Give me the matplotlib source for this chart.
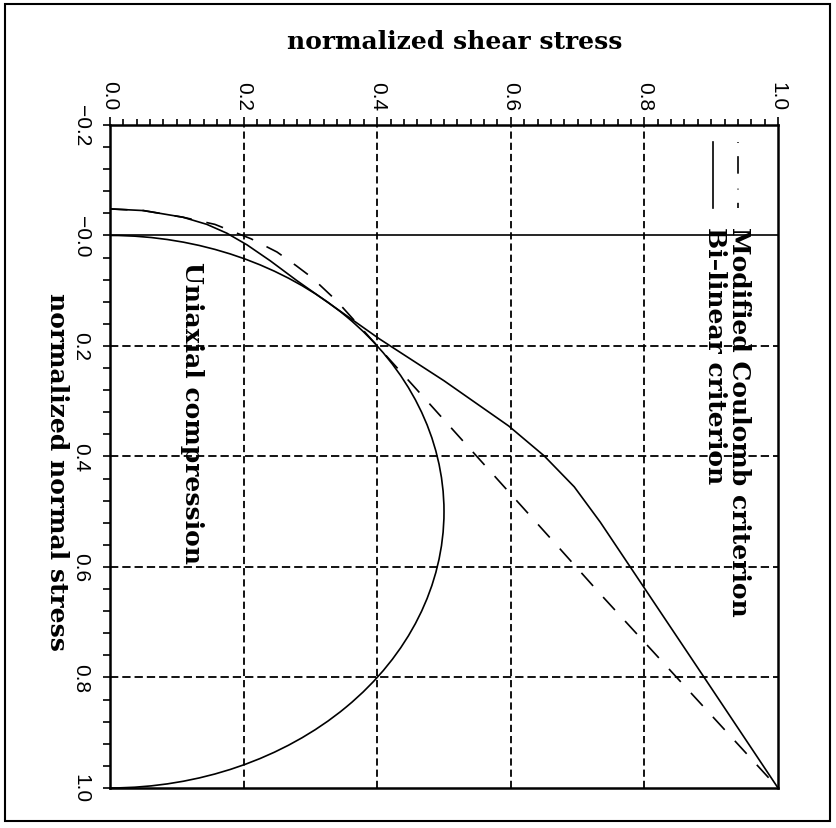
import matplotlib
matplotlib.use("Agg")
import matplotlib.pyplot as plt
from matplotlib.patches import Arc, Rectangle
from matplotlib.ticker import FixedLocator, FixedFormatter, MultipleLocator

# axis ticks
shear_ticks = [0.0, 0.2, 0.4, 0.6, 0.8, 1.0]
shear_labels = ["0.0", "0.2", "0.4", "0.6", "0.8", "1.0"]
normal_ticks = [-0.2, 0.0, 0.2, 0.4, 0.6, 0.8, 1.0]
normal_labels = ["\u22120.2", "\u22120.0", "0.2", "0.4", "0.6", "0.8", "1.0"]
grid_shear = [0.2, 0.4, 0.6, 0.8]
grid_normal = [0.2, 0.4, 0.6, 0.8]

# Mohr circle for uniaxial compression
circle_center = 0.5
circle_radius = 0.5

# modified Coulomb criterion
coulomb_normal = [-0.048, -0.045, -0.033, -0.020, 0.006, 0.030, 0.055, 0.076,
                  0.118, 0.272, 0.561, 0.649, 1.0]
coulomb_shear = [0.0, 0.05, 0.109, 0.157, 0.211, 0.250, 0.279, 0.302,
                 0.339, 0.454, 0.669, 0.734, 1.0]

# bi-linear criterion
bilinear_normal = [-0.048, -0.045, -0.033, -0.020, -0.004, 0.017, 0.046, 0.082,
                   0.116, 0.187, 0.263, 0.345, 0.399, 0.455, 0.519, 0.799, 1.0]
bilinear_shear = [0.0, 0.05, 0.109, 0.145, 0.175, 0.205, 0.240, 0.280,
                  0.320, 0.403, 0.500, 0.597, 0.650, 0.695, 0.734, 0.889, 1.0]

serif = dict(family="DejaVu Serif", weight="bold", size=18)

fig = plt.figure(figsize=(8.36, 8.29), dpi=100)
ax = fig.add_axes([0.1316, 0.0483, 0.7990, 0.7998])
ax.set_xlim(0.0, 1.0)
ax.set_ylim(1.0, -0.2)

for g in grid_shear:
    ax.axvline(g, color="k", lw=1.3, ls=(0, (4.0, 2.2)), zorder=1)
for g in grid_normal:
    ax.axhline(g, color="k", lw=1.3, ls=(0, (4.6, 2.2)), zorder=1)
ax.axhline(0.0, color="k", lw=1.2, zorder=2)

ax.add_patch(Arc((0.0, circle_center), 2 * circle_radius, 2 * circle_radius,
                 theta1=-90, theta2=90, color="k", lw=1.2, zorder=3))
ax.plot(coulomb_shear, coulomb_normal, color="k", lw=1.2,
        ls=(0, (10.5, 9.0)), zorder=3)
ax.plot(bilinear_shear, bilinear_normal, color="k", lw=1.2, zorder=3)

ax.text(0.123, 0.32, "Uniaxial compression", rotation=-90,
        ha="center", va="center", **serif)

# legend, drawn rotated like the rest of the page
ax.plot([0.940, 0.940], [0.975, 0.875], transform=ax.transAxes, color="k",
        lw=1.2, ls=(0, (0.5, 8, 10.5, 9.0)))
ax.plot([0.903, 0.903], [0.975, 0.875], transform=ax.transAxes, color="k",
        lw=1.2)
ax.text(0.942, 0.847, "Modified Coulomb criterion", transform=ax.transAxes,
        rotation=-90, ha="center", va="top", **serif)
ax.text(0.905, 0.847, "Bi\u2013linear criterion", transform=ax.transAxes,
        rotation=-90, ha="center", va="top", **serif)

ax.xaxis.set_major_locator(FixedLocator(shear_ticks))
ax.xaxis.set_major_formatter(FixedFormatter(shear_labels))
ax.xaxis.set_minor_locator(MultipleLocator(0.02))
ax.yaxis.set_major_locator(FixedLocator(normal_ticks))
ax.yaxis.set_major_formatter(FixedFormatter(normal_labels))
ax.yaxis.set_minor_locator(MultipleLocator(0.04))

ax.tick_params(axis="x", which="both", top=True, bottom=False, labeltop=True,
               labelbottom=False, direction="out", width=1.2,
               labelrotation=-90, labelsize=15, pad=5)
ax.tick_params(axis="x", which="major", length=6)
ax.tick_params(axis="x", which="minor", length=4)
ax.tick_params(axis="y", which="both", left=True, right=False, direction="out",
               width=1.2, length=5, labelrotation=-90, labelsize=15, pad=9)
for lab in ax.get_xticklabels() + ax.get_yticklabels():
    lab.set_family("Liberation Sans")
for lab in ax.get_yticklabels():
    lab.set_va("center")

for sp in ax.spines.values():
    sp.set_linewidth(1.8)

fig.text(455 / 836, 1 - 42 / 829, "normalized shear stress",
         ha="center", va="center", **serif)
fig.text(57 / 836, 1 - 472 / 829, "normalized normal stress", rotation=-90,
         ha="center", va="center", **serif)

fig.patches.append(Rectangle((0.006, 0.008), 0.987, 0.986,
                             transform=fig.transFigure, fill=False,
                             lw=1.5, color="k"))

fig.savefig("out.png", dpi=100)
